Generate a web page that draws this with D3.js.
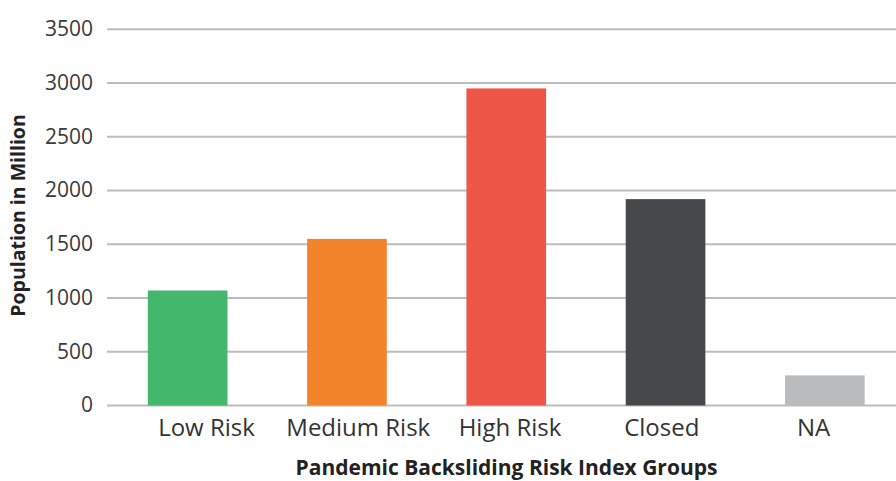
<!DOCTYPE html>
<html>
<head>
<meta charset="utf-8">
<script src="https://cdn.jsdelivr.net/npm/d3@7"></script>
<style>
  html, body { margin: 0; padding: 0; background: #fff; }
  svg { display: block; }
</style>
</head>
<body>
<svg id="chart" width="896" height="481"></svg>
<script>
const categories = ["Low Risk", "Medium Risk", "High Risk", "Closed", "NA"];
const values = [1070, 1550, 2950, 1920, 280];
const colors = ["#43b86c", "#f2832a", "#ee5647", "#46494c", "#b9bcbd"];
const yTicks = [0, 500, 1000, 1500, 2000, 2500, 3000, 3500];
const xTitle = "Pandemic Backsliding Risk Index Groups";
const yTitle = "Population in Million";

const svg = d3.select("#chart");
const font = "'Open Sans', sans-serif";

const y = d3.scaleLinear().domain([0, 3500]).range([405.5, 29.3]);
const x = d3.scaleBand().domain(categories).range([108, 904.5]).paddingInner(0.5).paddingOuter(0.25);
const xLabel = d3.scalePoint().domain(categories).range([206, 813]);

// gridlines
svg.append("g")
  .selectAll("line")
  .data(yTicks)
  .join("line")
  .attr("x1", 107).attr("x2", 900)
  .attr("y1", d => y(d)).attr("y2", d => y(d))
  .attr("stroke", "#bcbcbc").attr("stroke-width", 2);

// y tick labels
const yAxis = d3.axisLeft(y).tickValues(yTicks).tickFormat(d3.format("d")).tickSize(0).tickPadding(0);
const gy = svg.append("g").attr("transform", "translate(93,0)").call(yAxis);
gy.select(".domain").remove();
gy.selectAll("text")
  .attr("font-family", font).attr("font-size", 21).attr("fill", "#3a3a3a")
  .attr("dy", "0.3em");

// bars
svg.append("g")
  .selectAll("rect")
  .data(values)
  .join("rect")
  .attr("x", (d, i) => x(categories[i]))
  .attr("width", x.bandwidth())
  .attr("y", d => y(d))
  .attr("height", d => y(0) - y(d))
  .attr("fill", (d, i) => colors[i]);

// x category labels
const xAxis = d3.axisBottom(xLabel).tickSize(0).tickPadding(0);
const gx = svg.append("g").attr("transform", "translate(0,436)").call(xAxis);
gx.select(".domain").remove();
gx.selectAll("text")
  .attr("font-family", font).attr("font-size", 24).attr("fill", "#333")
  .attr("dy", 0).attr("y", 0);

// axis titles
svg.append("text")
  .attr("x", 506.5).attr("y", 475)
  .attr("text-anchor", "middle")
  .attr("font-family", font).attr("font-size", 21).attr("font-weight", "bold")
  .attr("fill", "#222")
  .text(xTitle);

svg.append("text")
  .attr("transform", "translate(25,215.5) rotate(-90)")
  .attr("text-anchor", "middle")
  .attr("font-family", font).attr("font-size", 19.5).attr("font-weight", "bold")
  .attr("fill", "#222")
  .text(yTitle);
</script>
</body>
</html>
